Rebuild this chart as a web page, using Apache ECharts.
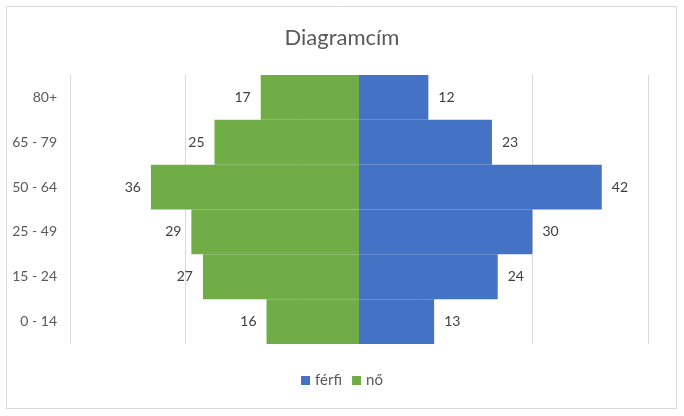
<!DOCTYPE html>
<html><head><meta charset="utf-8">
<script src="https://cdn.jsdelivr.net/npm/echarts@6/dist/echarts.min.js"></script>
<style>html,body{margin:0;padding:0;background:#fff}#c{width:684px;height:416px}</style>
</head><body><div id="c"></div>
<script>
var categories = ['0 - 14', '15 - 24', '25 - 49', '50 - 64', '65 - 79', '80+'];
var male = [13, 24, 30, 42, 23, 12];
var female = [16, 27, 29, 36, 25, 17];
var maleName = 'férfi';
var femaleName = 'nő';
var titleText = 'Diagramcím';

var FONT = 'Lato, "Open Sans", sans-serif';
var chart = echarts.init(document.getElementById('c'));
chart.setOption({
  animation: false,
  textStyle: { fontFamily: FONT },
  graphic: [{ type: 'rect', shape: { x: 6.5, y: 6.5, width: 670, height: 402 }, style: { fill: 'none', stroke: '#d9d9d9', lineWidth: 1 }, silent: true }],
  title: { text: titleText, left: 'center', top: 22, textStyle: { fontFamily: FONT, fontSize: 22, fontWeight: 'normal', color: '#595959' } },
  legend: {
    bottom: 23, left: 'center', itemWidth: 9, itemHeight: 9, itemGap: 10,
    icon: 'rect',
    data: [maleName, femaleName],
    textStyle: { fontFamily: FONT, fontSize: 15, color: '#595959' }
  },
  grid: { left: 70, right: 36, top: 75, bottom: 72, containLabel: false },
  xAxis: {
    type: 'value', min: -50, max: 50, interval: 20,
    axisLabel: { show: false }, axisLine: { show: false }, axisTick: { show: false },
    splitLine: { lineStyle: { color: '#d9d9d9', width: 1 } }
  },
  yAxis: {
    type: 'category', data: categories,
    axisTick: { show: false },
    axisLine: { show: true, onZero: true, lineStyle: { color: '#ffffff', width: 1 } },
    axisLabel: { fontFamily: FONT, fontSize: 14, color: '#595959', margin: 13 },
    position: 'left'
  },
  series: [
    {
      name: maleName, type: 'bar', data: male, barWidth: '100%', barGap: '-100%',
      itemStyle: { color: '#4472c4' },
      label: { show: true, position: 'right', distance: 10, fontFamily: FONT, fontSize: 14, color: '#404040' },
      z: 2
    },
    {
      name: femaleName, type: 'bar', data: female.map(function (v) { return -v; }), barWidth: '100%',
      itemStyle: { color: '#70ad47' },
      label: { show: true, position: 'left', distance: 10, fontFamily: FONT, fontSize: 14, color: '#404040',
        formatter: function (p) { return Math.abs(p.value); } },
      z: 2
    }
  ]
});
</script></body></html>
